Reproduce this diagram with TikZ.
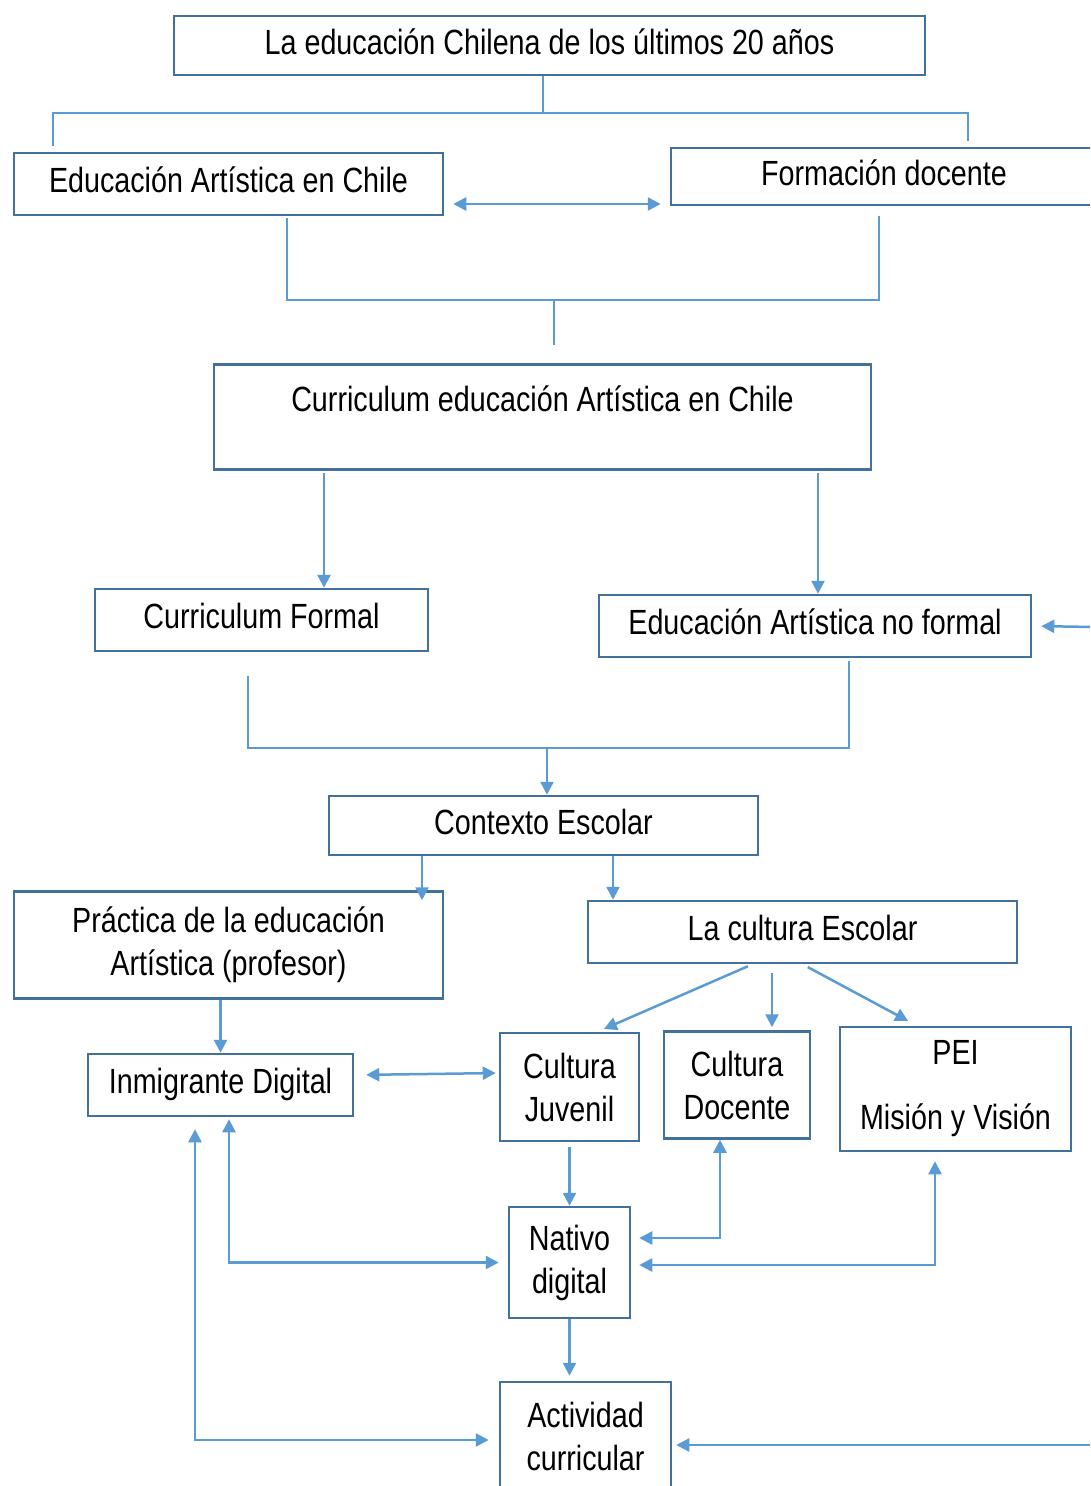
\documentclass[tikz,border=0pt]{standalone}
\usepackage{fontspec}
\setmainfont[FakeStretch=0.82]{Liberation Sans}
\usetikzlibrary{arrows.meta}
\definecolor{boxblue}{HTML}{41719C}
\definecolor{linkblue}{HTML}{5B9BD5}
\begin{document}
\begin{tikzpicture}[x=1pt,y=-1pt,
    box/.style={draw=boxblue,line width=2.5pt,inner sep=0pt,align=center,
      font=\fontsize{35pt}{43pt}\selectfont},
    onebox/.style={box,text height=26pt,text depth=9pt},
    link/.style={draw=linkblue,line width=2.5pt},
    arrow/.style={link,-{Triangle[length=13pt,width=13pt]}},
    both/.style={link,{Triangle[length=13pt,width=13pt]}-{Triangle[length=13pt,width=13pt]}}]
    \useasboundingbox (0,0) rectangle (1090,1486);
    \clip (0,0) rectangle (1090,1486);
    \fill[white] (0,0) rectangle (1090,1486);

    % boxes
    \node[onebox,minimum width=751,minimum height=59] (chile) at (549.5,45.5) {La educación Chilena de los últimos 20 años};
    \node[onebox,minimum width=429,minimum height=62] (arte) at (228.5,184) {Educación Artística en Chile};
    \node[onebox,minimum width=426,minimum height=57] (formacion) at (884,176.5) {Formación docente};
    \node[box,anchor=north,minimum width=657,text height=47,text depth=58] (curriculum) at (542.5,363) {Curriculum educación Artística en Chile};
    \node[onebox,minimum width=333,minimum height=62] (formal) at (261.5,620) {Curriculum Formal};
    \node[onebox,minimum width=432,minimum height=62] (noformal) at (815,626) {Educación Artística no formal};
    \node[onebox,minimum width=429,minimum height=59] (contexto) at (543.5,825.5) {Contexto Escolar};
    \node[box,minimum width=429,minimum height=107] (practica) at (228.5,945) {Práctica de la educación\\Artística (profesor)};
    \node[onebox,minimum width=429,minimum height=62] (cultura) at (802.5,932) {La cultura Escolar};
    \node[onebox,minimum width=265,minimum height=62] (inmigrante) at (220.5,1085) {Inmigrante Digital};
    \node[box,minimum width=139,minimum height=108] (juvenil) at (569.5,1087) {Cultura\\Juvenil};
    \node[box,minimum width=146,minimum height=107] (docente) at (737,1085) {Cultura\\Docente};
    \node[box,minimum width=231,minimum height=124] (pei) at (955.5,1089) {PEI\\[22pt]Misión y Visión};
    \node[box,minimum width=121,minimum height=111] (nativo) at (569.5,1262.5) {Nativo\\digital};
    \node[box,minimum width=171,minimum height=108] (actividad) at (585.5,1436) {Actividad\\curricular};

    \coordinate (bus1) at (543,113);
    \coordinate (bus2) at (554,300);
    \coordinate (bus3) at (547,748);
    \coordinate (rightA) at (1095,627);
    \coordinate (rightB) at (1095,1445);

    % top levels
    \draw[link] (chile.south -| bus1) -- (bus1);
    \draw[link,shorten <=6pt,shorten >=6pt] ([xshift=40]arte.north west) |- (bus1) -| ([xshift=84]formacion.north);
    \draw[both,shorten <=9pt,shorten >=9pt] ([yshift=-20]arte.east) -- ([yshift=-27.5]formacion.west);
    \draw[link,shorten <=2pt,shorten >=10pt] ([xshift=58.5]arte.south) |- (bus2) -| ([xshift=-5]formacion.south);
    \draw[link,shorten >=18pt] (bus2) -- (bus2 |- curriculum.north);
    \draw[arrow,shorten <=2pt] ([xshift=-218.5]curriculum.south) -- ([xshift=62.5]formal.north);
    \draw[arrow,shorten <=2pt] ([xshift=275.5]curriculum.south) -- ([xshift=3]noformal.north);
    \draw[arrow,shorten >=9pt] (rightA) -- (noformal.east);

    % context
    \draw[link,shorten <=24pt,shorten >=3pt] ([xshift=-13.5]formal.south) |- (bus3) -| ([xshift=34]noformal.south);
    \draw[arrow] (bus3) -- (bus3 |- contexto.north);
    \draw[arrow,shorten >=-10pt] ([xshift=-121.5]contexto.south) -- ([xshift=193.5]practica.north);
    \draw[arrow] ([xshift=69.5]contexto.south) -- ([xshift=-189.5]cultura.north);
    \draw[arrow] (practica.south -| inmigrante.north) -- (inmigrante.north);

    % school culture
    \draw[arrow,shorten <=5pt,shorten >=7pt] ([xshift=-50]cultura.south) -- ([xshift=28]juvenil.north);
    \draw[arrow,shorten <=9pt,shorten >=3pt] ([xshift=-30.5]cultura.south) -- ([xshift=35]docente.north);
    \draw[arrow,shorten <=6pt,shorten >=10pt] (cultura.south) -- ([xshift=-38.5]pei.north);
    \draw[both,shorten <=12pt,shorten >=3pt] ([yshift=10]inmigrante.east) -- ([yshift=14]juvenil.west);
    \draw[arrow,shorten <=5pt] (juvenil.south) -- (nativo.north);
    \draw[arrow,shorten >=5pt] (nativo.south) -- (nativo.south |- actividad.north);

    % native
    \draw[both,shorten >=8pt] ([xshift=-17]docente.south) |- ([yshift=24.5]nativo.east);
    \draw[both,shorten <=9pt,shorten >=8pt] ([xshift=-20.5]pei.south) |- ([yshift=-2.5]nativo.east);
    \draw[both,shorten <=2pt,shorten >=9pt] ([xshift=8.5]inmigrante.south) |- (nativo.west);
    \draw[both,shorten <=12pt,shorten >=10pt] ([xshift=-25.5]inmigrante.south) |- ([yshift=-4]actividad.west);
    \draw[arrow,shorten >=4pt] (rightB) -- (rightB -| actividad.east);
\end{tikzpicture}
\end{document}
